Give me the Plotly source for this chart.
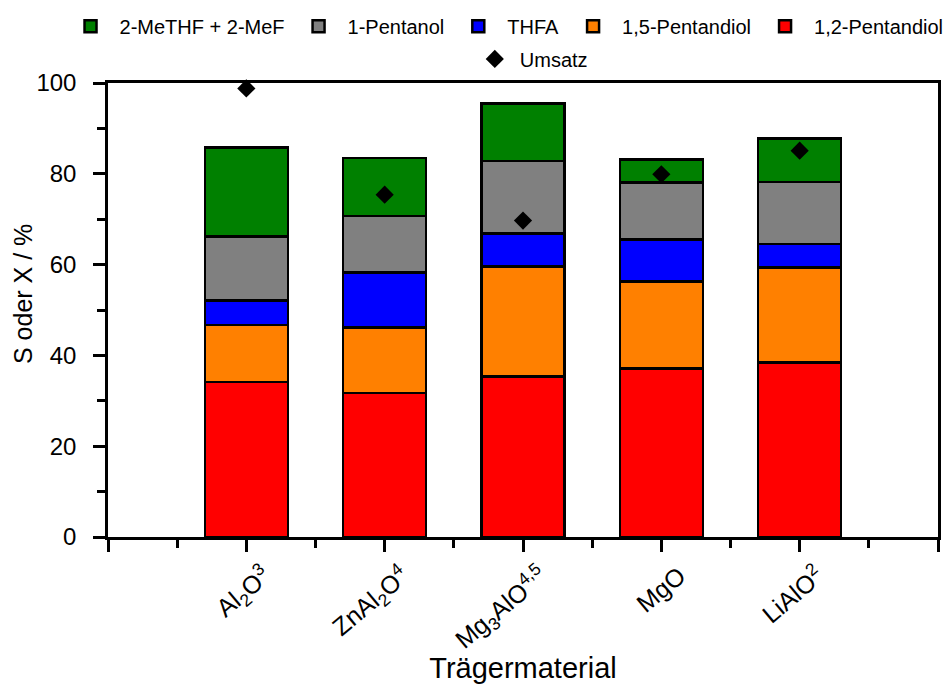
import plotly.graph_objects as go

categories = ["Al<sub>2</sub>O<sup>3</sup>", "ZnAl<sub>2</sub>O<sup>4</sup>",
              "Mg<sub>3</sub>AlO<sup>4,5</sup>", "MgO", "LiAlO<sup>2</sup>"]

pentandiol_12 = [34.1, 31.7, 35.3, 37.1, 38.4]
pentandiol_15 = [12.6, 14.4, 24.3, 19.2, 21.0]
thfa = [5.4, 12.2, 7.3, 9.2, 5.1]
pentanol = [14.1, 12.4, 15.9, 12.6, 13.7]
methf_mef = [19.6, 12.8, 12.7, 5.0, 9.6]
umsatz = [98.8, 75.4, 69.7, 79.9, 85.1]

series_names = ["1,2-Pentandiol", "1,5-Pentandiol", "THFA", "1-Pentanol", "2-MeTHF + 2-MeF"]
series_values = [pentandiol_12, pentandiol_15, thfa, pentanol, methf_mef]
series_colors = ["#FF0000", "#FF8000", "#0000FF", "#808080", "#008000"]

xpos = list(range(1, len(categories) + 1))
FONT = "Liberation Sans, Arial, sans-serif"

fig = go.Figure()
for name, vals, col in zip(series_names, series_values, series_colors):
    fig.add_trace(go.Bar(
        x=xpos, y=vals, name=name, width=0.6,
        marker=dict(color=col, line=dict(color="black", width=2.5)),
        legend="legend",
    ))

fig.add_trace(go.Scatter(
    x=xpos, y=umsatz, name="Umsatz", mode="markers",
    marker=dict(symbol="diamond", size=14, color="black"),
    legend="legend2", cliponaxis=False,
))

fig.update_layout(
    barmode="stack",
    width=951, height=684,
    margin=dict(l=108, r=13, t=83, b=147, autoexpand=False),
    plot_bgcolor="white", paper_bgcolor="white",
    font=dict(family=FONT, color="black", size=20),
    legend=dict(orientation="h", traceorder="reversed", itemwidth=48,
                x=-0.056, xanchor="left", y=1.125, yanchor="middle",
                font=dict(size=20), bgcolor="rgba(0,0,0,0)"),
    legend2=dict(orientation="h", itemwidth=40, x=0.51, xanchor="center",
                 y=1.053, yanchor="middle",
                 font=dict(size=20), bgcolor="rgba(0,0,0,0)"),
    xaxis=dict(
        range=[0, 6], tickmode="array", tickvals=[0] + xpos + [6],
        ticktext=[""] + categories + [""], tickangle=-40,
        ticks="outside", ticklen=12, tickwidth=2.5, tickcolor="black",
        minor=dict(tickmode="array", tickvals=[0.5, 1.5, 2.5, 3.5, 4.5, 5.5],
                   ticks="outside", ticklen=8, tickwidth=2.5, tickcolor="black"),
        showline=True, linecolor="black", linewidth=2.5, mirror=True,
        showgrid=False, zeroline=False, automargin=False,
        tickfont=dict(size=25), ticklabelshift=18,
        title=dict(text="Trägermaterial", font=dict(size=29), standoff=0),
    ),
    yaxis=dict(
        range=[0, 100], tickmode="linear", tick0=0, dtick=20,
        ticks="outside", ticklen=12, tickwidth=2.5, tickcolor="black",
        minor=dict(dtick=10, ticks="outside", ticklen=8, tickwidth=2.5,
                   tickcolor="black", showgrid=False),
        showline=True, linecolor="black", linewidth=2.5, mirror=True,
        showgrid=False, zeroline=False, automargin=False,
        tickfont=dict(size=24), ticklabelstandoff=12,
    ),
    annotations=[dict(text="S oder X / %", textangle=-90, showarrow=False,
                      xref="paper", yref="paper", x=-0.1025, y=0.535,
                      xanchor="center", yanchor="middle",
                      font=dict(size=25))],
)

fig.write_html("out.html", post_script="document.body.style.margin='0';",
               config={"displayModeBar": False})
